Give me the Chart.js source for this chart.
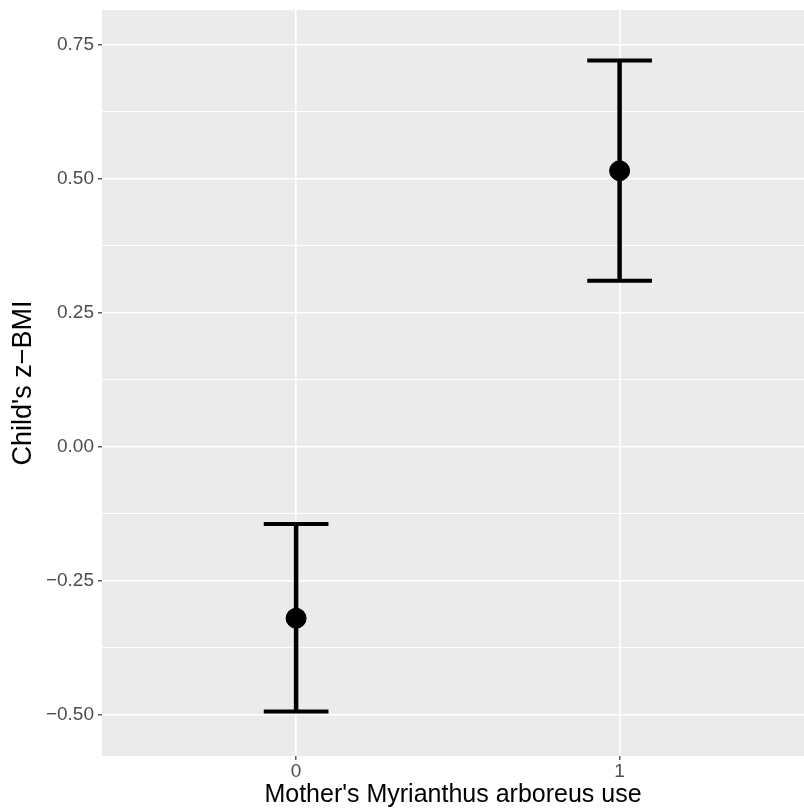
<!DOCTYPE html>
<html>
<head>
<meta charset="utf-8">
<script src="https://cdn.jsdelivr.net/npm/chart.js@4"></script>
<style>
  html, body { margin: 0; padding: 0; background: #ffffff; overflow: hidden; }
  #wrap { position: relative; width: 804px; height: 810px; }
</style>
</head>
<body>
<div id="wrap"><canvas id="myChart"></canvas></div>
<script>
// Groups on the x axis
const categories = ["0", "1"];

// Mean z-BMI per group and the error bar limits
const means = [-0.320, 0.515];
const lowerCI = [-0.494, 0.310];
const upperCI = [-0.144, 0.721];

// Axis ticks
const yMajorTicks = [-0.5, -0.25, 0, 0.25, 0.5, 0.75];
const yMinorTicks = [-0.375, -0.125, 0.125, 0.375, 0.625];

const FONT = "'Liberation Sans', Arial, sans-serif";

// Grey panel behind the plot
const panelBackground = {
  id: "panelBackground",
  beforeDraw(chart) {
    const { ctx, chartArea } = chart;
    ctx.save();
    ctx.fillStyle = "#EBEBEB";
    ctx.fillRect(chartArea.left, chartArea.top, chartArea.right - chartArea.left, chartArea.bottom - chartArea.top);
    ctx.restore();
  },
};

// Error bars with caps, drawn under the points
const errorBars = {
  id: "errorBars",
  beforeDatasetsDraw(chart) {
    const { ctx } = chart;
    const xs = chart.scales.x;
    const ys = chart.scales.y;
    const capHalf = 0.1;
    ctx.save();
    ctx.strokeStyle = "#000000";
    ctx.lineCap = "butt";
    categories.forEach((c, i) => {
      const x = xs.getPixelForValue(i);
      const yLo = ys.getPixelForValue(lowerCI[i]);
      const yHi = ys.getPixelForValue(upperCI[i]);
      const xl = xs.getPixelForValue(i - capHalf);
      const xr = xs.getPixelForValue(i + capHalf);
      ctx.lineWidth = 4.5;
      ctx.beginPath();
      ctx.moveTo(x, yLo);
      ctx.lineTo(x, yHi);
      ctx.stroke();
      ctx.lineWidth = 4;
      ctx.beginPath();
      ctx.moveTo(xl, yHi);
      ctx.lineTo(xr, yHi);
      ctx.moveTo(xl, yLo);
      ctx.lineTo(xr, yLo);
      ctx.stroke();
    });
    ctx.restore();
  },
};

const isMinor = (v) => yMinorTicks.some((m) => Math.abs(m - v) < 1e-9);

// no extra room for tick labels at the panel edges
function noEdgePadding(scale) {
  scale.paddingTop = 0;
  scale.paddingBottom = 0;
  scale.paddingLeft = 0;
  scale.paddingRight = 0;
}

const data = {
  datasets: [
    {
      label: "mean",
      data: means.map((m, i) => ({ x: i, y: m })),
      backgroundColor: "#000000",
      borderColor: "#000000",
      pointRadius: 10,
      pointHoverRadius: 10,
      showLine: false,
    },
  ],
};

const config = {
  type: "scatter",
  data: data,
  plugins: [panelBackground, errorBars],
  options: {
    responsive: false,
    animation: false,
    layout: { autoPadding: false, padding: { top: 10, right: 0, left: 0, bottom: 0 } },
    plugins: {
      legend: { display: false },
      tooltip: { enabled: false },
    },
    scales: {
      x: {
        type: "linear",
        min: -0.6,
        max: 1.57,
        afterBuildTicks(scale) {
          scale.ticks = categories.map((c, i) => ({ value: i }));
        },
        afterFit(scale) {
          scale.height = 54;
          noEdgePadding(scale);
        },
        border: { display: false },
        grid: {
          color: "#FFFFFF",
          lineWidth: 1.6,
          tickColor: "#333333",
          tickLength: 4,
          tickWidth: 1.2,
        },
        ticks: {
          padding: 0,
          color: "#4D4D4D",
          font: { family: FONT, size: 19 },
          callback: (v) => categories[Math.round(v)],
        },
        title: {
          display: true,
          text: "Mother's Myrianthus arboreus use",
          color: "#000000",
          font: { family: FONT, size: 25, lineHeight: 1.2 },
          padding: { top: 0, bottom: 0 },
        },
      },
      y: {
        type: "linear",
        min: -0.577,
        max: 0.815,
        afterBuildTicks(scale) {
          scale.ticks = yMajorTicks
            .concat(yMinorTicks)
            .sort((a, b) => a - b)
            .map((v) => ({ value: v }));
        },
        afterFit(scale) {
          scale.width = 102;
          noEdgePadding(scale);
        },
        border: { display: false },
        grid: {
          color: "#FFFFFF",
          lineWidth: (ctx) => (ctx.tick && isMinor(ctx.tick.value) ? 0.9 : 1.6),
          tickColor: (ctx) => (ctx.tick && isMinor(ctx.tick.value) ? "rgba(0,0,0,0)" : "#333333"),
          tickLength: 4,
          tickWidth: 1.2,
        },
        ticks: {
          padding: 4,
          color: "#4D4D4D",
          font: { family: FONT, size: 19 },
          autoSkip: false,
          callback: (v) => (isMinor(v) ? "" : v.toFixed(2).replace("-", "\u2212")),
        },
        title: {
          display: true,
          text: "Child's z\u2212BMI",
          color: "#000000",
          font: { family: FONT, size: 27, lineHeight: 1.2 },
          padding: { top: 7, bottom: 0 },
        },
      },
    },
  },
};

const ctx = document.getElementById("myChart");
ctx.width = 804;
ctx.height = 810;
new Chart(ctx, config);
</script>
</body>
</html>
